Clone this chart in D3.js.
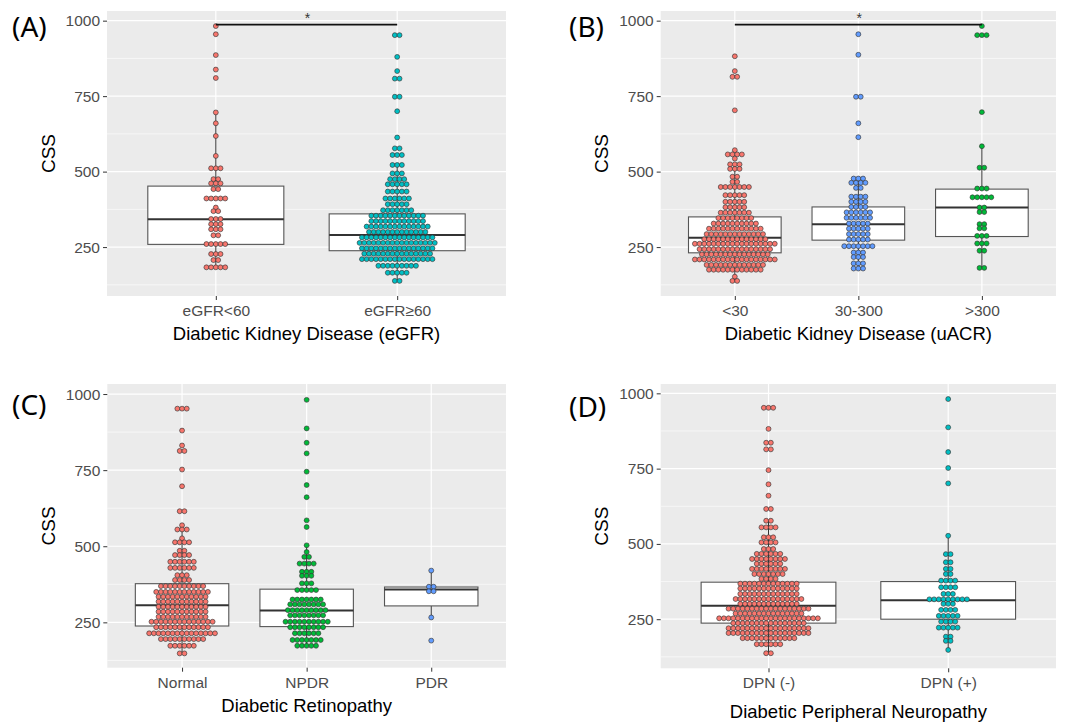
<!DOCTYPE html>
<html>
<head>
<meta charset="utf-8">
<script src="https://cdn.jsdelivr.net/npm/d3@7"></script>
<style>
  body { margin: 0; background: #fff; }
  svg text { font-family: "Liberation Sans", Arial, sans-serif; }
</style>
</head>
<body>
<svg id="chart" width="1072" height="723"></svg>
<script>
// Dot rows: [CSS, number of dots in that row]
const egfrLow = [[982,1],[955,1],[886,1],[838,1],[810,1],[696,1],[660,1],[618,1],[552,1],[511,3],[475,2],[461,3],[442,2],[411,5],[381,1],[369,2],[343,3],[326,3],[309,3],[289,2],[260,5],[227,3],[207,2],[183,5]]
const egfrHigh = [[952,2],[880,1],[833,1],[808,2],[748,2],[700,1],[613,1],[577,2],[555,3],[522,3],[494,3],[475,4],[458,5],[434,5],[411,6],[392,5],[372,7],[354,12],[336,12],[318,14],[300,13],[282,16],[264,17],[246,16],[228,15],[210,16],[188,9],[165,5],[138,2]]

const acrLow = [[882,1],[833,1],[814,2],[703,1],[571,1],[557,4],[543,1],[524,3],[509,3],[483,2],[466,2],[449,7],[422,5],[400,5],[382,5],[364,7],[346,8],[328,10],[311,12],[293,13],[276,14],[261,18],[243,16],[226,15],[209,18],[191,13],[175,12],[152,1],[138,2]]
const acrMid = [[955,1],[887,1],[748,2],[660,1],[614,1],[477,3],[463,4],[446,2],[417,4],[400,4],[383,4],[365,6],[347,6],[328,5],[311,5],[293,5],[275,5],[253,7],[232,3],[217,3],[196,3],[179,3]]
const acrHigh = [[982,1],[952,3],[697,1],[584,1],[513,2],[444,3],[415,5],[381,2],[366,2],[326,2],[312,2],[287,3],[262,3],[238,2],[181,2]]

const drNormal = [[952,3],[880,1],[831,1],[813,2],[752,1],[697,1],[615,2],[569,1],[555,3],[526,1],[513,4],[485,2],[471,4],[449,6],[429,6],[405,3],[389,4],[369,10],[350,12],[334,11],[318,11],[301,11],[285,11],[268,11],[252,14],[234,12],[214,15],[195,10],[173,6],[148,2]]
const drNpdr = [[981,1],[887,1],[840,1],[805,1],[745,1],[701,1],[661,1],[585,1],[563,1],[503,1],[481,1],[465,2],[443,4],[416,3],[403,3],[378,3],[356,5],[325,7],[309,8],[290,9],[273,8],[252,10],[234,8],[214,6],[192,7],[173,5]]
const drPdr = [[420,1],[367,2],[352,2],[266,1],[190,1]]

const dpnNeg = [[952,3],[882,1],[836,2],[814,2],[745,1],[698,1],[660,1],[616,2],[577,2],[555,4],[522,3],[505,4],[483,3],[467,6],[450,8],[434,6],[417,8],[400,7],[384,4],[368,13],[352,13],[334,13],[317,15],[301,13],[285,18],[269,15],[253,22],[237,16],[220,18],[204,18],[187,12],[167,6],[137,2]]
const dpnPos = [[981,1],[887,1],[805,1],[752,1],[701,1],[527,1],[466,2],[439,2],[417,2],[400,2],[378,4],[356,4],[334,3],[316,9],[301,3],[281,4],[261,5],[242,4],[222,5],[192,2],[178,2],[148,1]]

// box stats: [q1, median, q3, lower whisker, upper whisker]
const egfrBoxes = [[259,342,452,183,696],[238,290,360,138,522]]
const acrBoxes = [[231,281,350,138,524],[273,326,383,179,477],[285,381,442,181,584]]
const drBoxes = [[238,306,377,148,569],[236,289,359,173,503],[304,358,366,266,420]]
const dpnBoxes = [[237,295,373,137,577],[250,313,375,148,527]]

const egfrCats = ['eGFR<60', 'eGFR\u226560']
const acrCats = ['<30', '30-300', '>300']
const drCats = ['Normal', 'NPDR', 'PDR']
const dpnCats = ['DPN (-)', 'DPN (+)']

const yTicks = [250, 500, 750, 1000]
const yMinor = [125, 375, 625, 875]

const RED = '#F8766D', TEAL = '#00BFC4', GREEN = '#00BA38', BLUE = '#619CFF'
const DOT = 4.7

const panels = [
  { label: '(A)', title: 'Diabetic Kidney Disease (eGFR)', cats: egfrCats, rows: [egfrLow, egfrHigh],
    boxes: egfrBoxes, colors: [RED, TEAL], signif: [0, 1],
    left: 107, right: 506, top: 11, bottom: 296, domain: [88, 1032],
    labelX: 12, labelY: 37, cssX: 48, titleY: 340 },
  { label: '(B)', title: 'Diabetic Kidney Disease (uACR)', cats: acrCats, rows: [acrLow, acrMid, acrHigh],
    boxes: acrBoxes, colors: [RED, BLUE, GREEN], signif: [0, 2],
    left: 660.7, right: 1056, top: 11, bottom: 296, domain: [88, 1032],
    labelX: 569, labelY: 37, cssX: 601, titleY: 340 },
  { label: '(C)', title: 'Diabetic Retinopathy', cats: drCats, rows: [drNormal, drNpdr, drPdr],
    boxes: drBoxes, colors: [RED, GREEN, BLUE],
    left: 107.3, right: 506, top: 384, bottom: 667.7, domain: [101, 1033],
    labelX: 12, labelY: 415, cssX: 48, titleY: 711.5 },
  { label: '(D)', title: 'Diabetic Peripheral Neuropathy', cats: dpnCats, rows: [dpnNeg, dpnPos],
    boxes: dpnBoxes, colors: [RED, TEAL],
    left: 660.7, right: 1056, top: 384, bottom: 668.3, domain: [87, 1031],
    labelX: 569, labelY: 417, cssX: 601, titleY: 718 }
]

const svg = d3.select('#chart')

panels.forEach(drawPanel)

function drawPanel (p) {
  const g = svg.append('g')
  const x = d3.scalePoint().domain(p.cats).range([p.left, p.right]).padding(0.6)
  const y = d3.scaleLinear().domain(p.domain).range([p.bottom, p.top])
  const boxW = x.step() * 0.75

  g.append('rect')
    .attr('x', p.left).attr('y', p.top)
    .attr('width', p.right - p.left).attr('height', p.bottom - p.top)
    .attr('fill', '#EBEBEB')

  g.selectAll('.minor').data(yMinor.filter(v => v > p.domain[0] && v < p.domain[1]))
    .join('line')
    .attr('x1', p.left).attr('x2', p.right)
    .attr('y1', d => y(d)).attr('y2', d => y(d))
    .attr('stroke', '#fff').attr('stroke-width', 0.6)

  g.selectAll('.major').data(yTicks)
    .join('line')
    .attr('x1', p.left).attr('x2', p.right)
    .attr('y1', d => y(d)).attr('y2', d => y(d))
    .attr('stroke', '#fff').attr('stroke-width', 1.2)

  g.selectAll('.vgrid').data(p.cats)
    .join('line')
    .attr('x1', d => x(d)).attr('x2', d => x(d))
    .attr('y1', p.top).attr('y2', p.bottom)
    .attr('stroke', '#fff').attr('stroke-width', 1.2)

  // boxes
  p.cats.forEach((cat, i) => {
    const [q1, med, q3, lo, hi] = p.boxes[i]
    const cx = x(cat)
    g.append('line')
      .attr('x1', cx).attr('x2', cx).attr('y1', y(q3)).attr('y2', y(hi))
      .attr('stroke', '#333').attr('stroke-width', 1)
    g.append('line')
      .attr('x1', cx).attr('x2', cx).attr('y1', y(q1)).attr('y2', y(lo))
      .attr('stroke', '#333').attr('stroke-width', 1)
    g.append('rect')
      .attr('x', cx - boxW / 2).attr('y', y(q3))
      .attr('width', boxW).attr('height', y(q1) - y(q3))
      .attr('fill', '#fff').attr('stroke', '#555').attr('stroke-width', 1.1)
    g.append('line')
      .attr('x1', cx - boxW / 2).attr('x2', cx + boxW / 2)
      .attr('y1', y(med)).attr('y2', y(med))
      .attr('stroke', '#333').attr('stroke-width', 2)
  })

  // dots, centred stacks
  p.cats.forEach((cat, i) => {
    const dots = []
    p.rows[i].forEach(([v, n]) => {
      for (let k = 0; k < n; k++) dots.push({ v, off: k - (n - 1) / 2 })
    })
    g.append('g').selectAll('circle').data(dots)
      .join('circle')
      .attr('cx', d => x(cat) + d.off * DOT)
      .attr('cy', d => y(d.v))
      .attr('r', 2.45)
      .attr('fill', p.colors[i])
      .attr('stroke', '#333').attr('stroke-width', 0.65)
  })

  // significance bar
  if (p.signif) {
    const x1 = x(p.cats[p.signif[0]]), x2 = x(p.cats[p.signif[1]])
    g.append('line')
      .attr('x1', x1).attr('x2', x2).attr('y1', y(987)).attr('y2', y(987))
      .attr('stroke', '#111').attr('stroke-width', 1.7)
    g.append('text')
      .attr('x', (x1 + x2) / 2 + 1).attr('y', p.top + 12)
      .attr('text-anchor', 'middle').attr('font-size', 14).attr('fill', '#333')
      .text('*')
  }

  // axes
  const ya = g.append('g').attr('transform', `translate(${p.left},0)`)
    .call(d3.axisLeft(y).tickValues(yTicks).tickFormat(d3.format('d')).tickSize(4).tickPadding(3))
  ya.select('.domain').remove()
  ya.selectAll('line').attr('stroke', '#333')
  ya.selectAll('text').attr('font-size', 15.5).attr('fill', '#4D4D4D')
    .style('font-family', '"Liberation Sans", Arial, sans-serif')

  const xa = g.append('g').attr('transform', `translate(0,${p.bottom})`)
    .call(d3.axisBottom(x).tickSize(4).tickPadding(5))
  xa.select('.domain').remove()
  xa.selectAll('line').attr('stroke', '#333')
  xa.selectAll('text').attr('font-size', 15.5).attr('fill', '#4D4D4D')
    .style('font-family', '"Liberation Sans", Arial, sans-serif')

  g.append('text')
    .attr('x', (p.left + p.right) / 2).attr('y', p.titleY)
    .attr('text-anchor', 'middle').attr('font-size', 18.5).attr('fill', '#000')
    .text(p.title)

  const cy = (p.top + p.bottom) / 2
  g.append('text')
    .attr('transform', `translate(${p.cssX + 7},${cy}) rotate(-90)`)
    .attr('text-anchor', 'middle').attr('font-size', 19).attr('fill', '#000')
    .text('CSS')

  g.append('text')
    .attr('x', p.labelX).attr('y', p.labelY)
    .attr('font-size', 28).attr('fill', '#000')
    .style('font-family', '"Noto Sans", "Open Sans", sans-serif')
    .text(p.label)
}
</script>
</body>
</html>
